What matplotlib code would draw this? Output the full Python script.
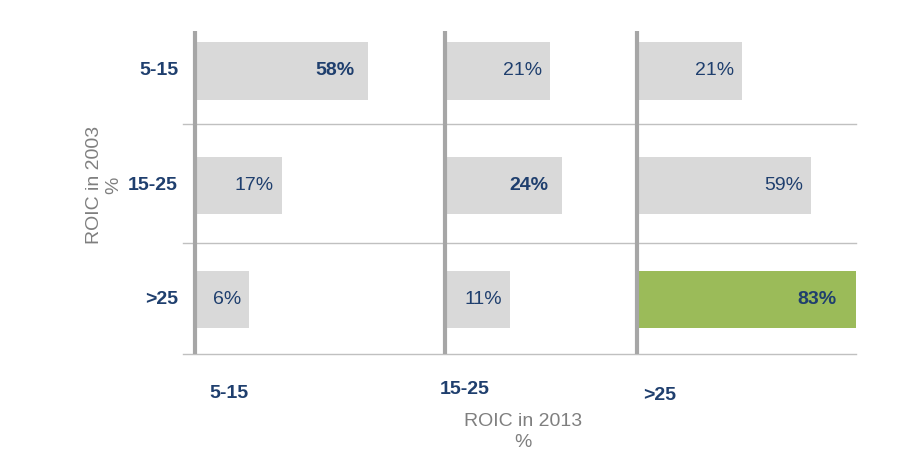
import matplotlib.pyplot as plt

plt.rcParams['font.family'] = ['Liberation Sans', 'DejaVu Sans']

# ROIC buckets
rows = ["5-15", "15-25", ">25"]        # ROIC in 2003
cols = ["5-15", "15-25", ">25"]        # ROIC in 2013

# share of companies, % (row = 2003 bucket, col = 2013 bucket)
shares = [
    [58, 21, 21],
    [17, 24, 59],
    [6, 11, 83],
]
# drawn bar lengths as in the original chart (not proportional to shares)
bar_len = [
    [173, 105, 105],
    [87, 117, 174],
    [54, 65, 219],
]

W, H = 923, 474
fig = plt.figure(figsize=(W / 100, H / 100), dpi=100)

# axes in pixel units, 1 data unit = 1 px horizontally
left_px, right_px = 183, 856
top_px, bot_px = 31, 353.5
ax = fig.add_axes([left_px / W, 1 - bot_px / H, (right_px - left_px) / W, (bot_px - top_px) / H])
ax.set_xlim(0, right_px - left_px)
ax.set_ylim(2.474, -0.35)
ax.axis("off")

col_x = [12, 262, 454]   # column baseline positions
blue = "#1f3f6e"
grey_txt = "#7f7f7f"
fs = 14

# horizontal separators
for y in [0.465, 1.509, 2.474]:
    ax.axhline(y, color="#c0c0c0", lw=1, zorder=1, clip_on=False)

for j, x0 in enumerate(col_x):
    ax.plot([x0, x0], [-0.35, 2.474], color="#a6a6a6", lw=3, zorder=3,
            solid_capstyle="butt", clip_on=False)
    for i in range(len(rows)):
        is_max = (i == j)
        color = "#9bbb59" if (i == 2 and j == 2) else "#d9d9d9"
        ax.barh(i, bar_len[i][j], left=x0, height=0.5, color=color, zorder=2)
        off = 20 if (i == 2 and j == 2) else (14 if is_max else 8)
        ax.text(x0 + bar_len[i][j] - off, i, f"{shares[i][j]}%",
                ha="right", va="center", fontsize=fs, color=blue,
                fontweight="bold" if is_max else "normal", zorder=4)

# row labels
for i, lab in enumerate(rows):
    ax.text(-5, i, lab, ha="right", va="center", fontsize=fs, fontweight="bold",
            color=blue, clip_on=False)

# column labels
col_lab_x = [209, 440, 643]
col_lab_y = [393, 390, 395]
for lab, x, y in zip(cols, col_lab_x, col_lab_y):
    fig.text(x / W, 1 - y / H, lab, ha="left", va="center", fontsize=fs,
             fontweight="bold", color=blue)

fig.text(523 / W, 1 - 432 / H, "ROIC in 2013\n%", ha="center", va="center",
         fontsize=fs, color=grey_txt, multialignment="center", linespacing=1.3)
fig.text(104 / W, 1 - 185 / H, "ROIC in 2003\n%", ha="center", va="center",
         rotation=90, fontsize=fs, color=grey_txt, multialignment="center", linespacing=1.15)

fig.savefig("out.png", dpi=100)
